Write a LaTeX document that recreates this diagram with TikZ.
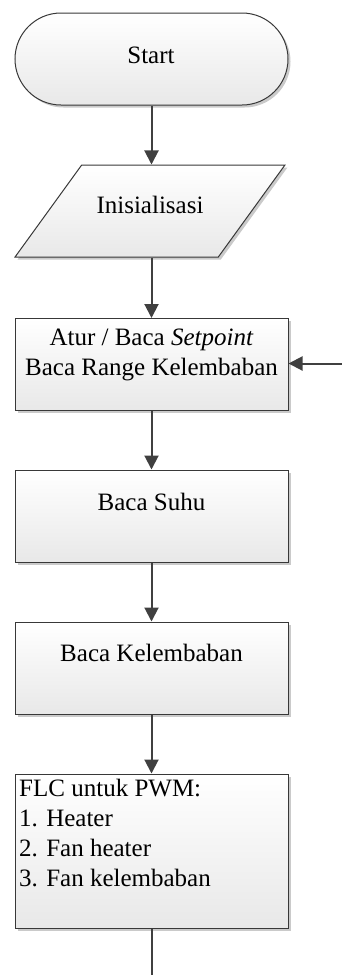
\documentclass[tikz,border=0pt]{standalone}
\usepackage{fontspec}
\setmainfont{Liberation Serif}
\usetikzlibrary{shapes.geometric,shadows,arrows.meta}

\tikzset{
  box/.style={draw=black!78, line width=1pt, top color=white, bottom color=black!9,
    drop shadow={shadow xshift=2.5pt, shadow yshift=-2.5pt, fill=black!35, opacity=0.6}},
  term/.style={box, rectangle, rounded corners=46pt, minimum width=273pt, minimum height=92pt},
  io/.style={box, trapezium, trapezium left angle=64, trapezium right angle=116,
    trapezium stretches=true, minimum width=270pt, minimum height=92pt},
  proc/.style={box, rectangle, minimum width=273pt, minimum height=92pt},
  lbl/.style={inner sep=0pt, font=\fontsize{25}{30}\selectfont},
  onelbl/.style={lbl, text height=17pt, text depth=5pt},
  flow/.style={draw=black!75, line width=2pt, -{Triangle[length=14pt,width=14pt]}}
}

\begin{document}
\begin{tikzpicture}[x=1pt, y=-1pt]
\useasboundingbox (0,0) rectangle (342,975);

% shapes
\node[term] (start) at (151.5,59) {};
\node[io] (init) at (150,211) {};
\node[proc] (setpoint) at (151.5,364.5) {};
\node[proc] (suhu) at (151.5,516) {};
\node[proc] (lembab) at (151.5,668) {};
\node[proc, minimum height=154pt] (flc) at (151.5,851) {};

% texts
\node[onelbl] (tstart) at (151,57) {Start};
\node[onelbl] (tinit) at (150,207) {Inisialisasi};
\node[lbl, anchor=north, align=center] (tsetpoint) at (151.5,329)
  {Atur / Baca \textit{Setpoint}\\Baca Range Kelembaban};
\node[onelbl] (tsuhu) at (151.5,504) {Baca Suhu};
\node[onelbl] (tlembab) at (151.5,655) {Baca Kelembaban};
\node[lbl, anchor=north west, align=left] (tflc) at (19,779)
  {FLC untuk PWM:\\1. Heater\\2. Fan heater\\3. Fan kelembaban};

% connectors
\coordinate (loopin) at (342,363.5);
\coordinate (down) at (151.5,975);
\draw[flow] (start) -- (start |- init.north);
\draw[flow] (init.south -| start) -- (setpoint);
\draw[flow] (setpoint) -- (suhu);
\draw[flow] (suhu) -- (lembab);
\draw[flow] (lembab) -- (flc);
\draw[flow] (loopin) -- (setpoint.east |- loopin);
\draw[draw=black!75, line width=2pt] (flc) -- (down);
\end{tikzpicture}
\end{document}
